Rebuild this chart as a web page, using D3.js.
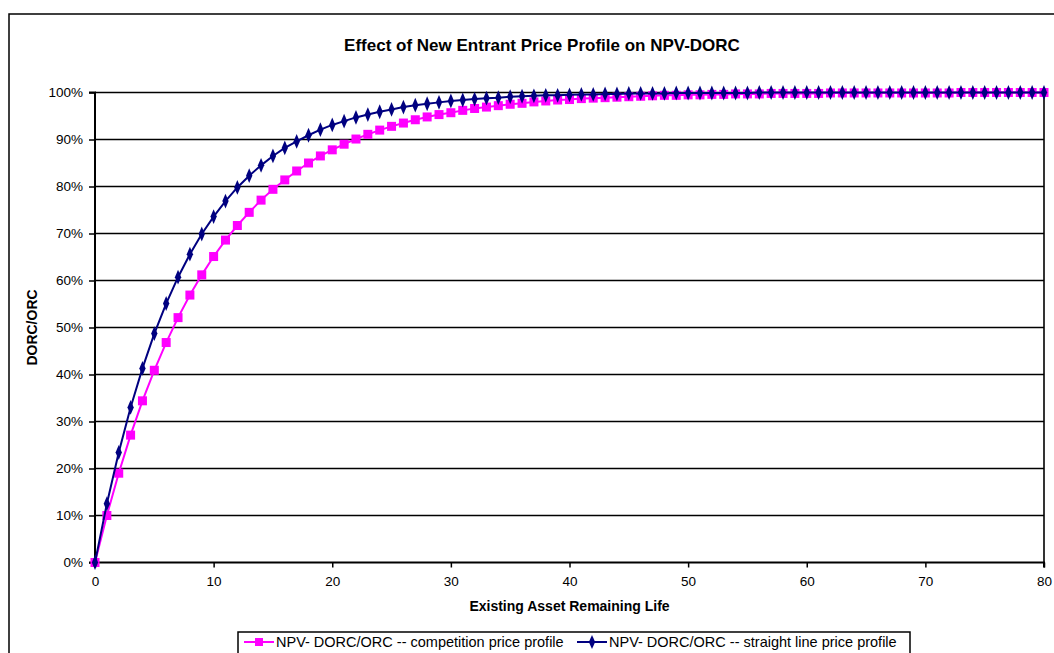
<!DOCTYPE html>
<html>
<head>
<meta charset="utf-8">
<script src="https://cdn.jsdelivr.net/npm/d3@7"></script>
<style>
  html, body { margin: 0; padding: 0; background: #fff; }
  svg { display: block; font-family: "Liberation Sans", Arial, sans-serif; }
</style>
</head>
<body>
<svg id="chart" width="1054" height="653"></svg>
<script>
// ---- data ----
const years = [0,1,2,3,4,5,6,7,8,9,10,11,12,13,14,15,16,17,18,19,20,21,22,23,24,25,26,27,28,29,30,31,32,33,34,35,36,37,38,39,40,41,42,43,44,45,46,47,48,49,50,51,52,53,54,55,56,57,58,59,60,61,62,63,64,65,66,67,68,69,70,71,72,73,74,75,76,77,78,79,80];

const competitionProfile = [0,0.100,0.190,0.271,0.344,0.409,0.468,0.521,0.569,0.612,0.651,0.686,0.717,0.745,0.771,0.794,0.814,0.833,0.850,0.865,0.878,0.890,0.901,0.911,0.920,0.928,0.935,0.942,0.948,0.953,0.957,0.962,0.966,0.969,0.972,0.975,0.977,0.980,0.982,0.984,0.985,0.987,0.988,0.989,0.990,0.991,0.992,0.993,0.994,0.994,0.995,0.995,0.996,0.996,0.997,0.997,0.997,0.998,0.998,0.998,0.998,0.998,0.999,0.999,0.999,0.999,0.999,0.999,0.999,0.999,0.999,0.999,0.999,1,1,1,1,1,1,1,1];

const straightLineProfile = [0,0.125,0.234,0.330,0.413,0.487,0.551,0.607,0.656,0.699,0.736,0.769,0.798,0.823,0.845,0.865,0.882,0.896,0.909,0.921,0.931,0.939,0.947,0.953,0.959,0.964,0.969,0.973,0.976,0.979,0.982,0.984,0.986,0.988,0.989,0.991,0.992,0.993,0.994,0.994,0.995,0.996,0.996,0.997,0.997,0.998,0.998,0.998,0.998,0.999,0.999,0.999,0.999,0.999,0.999,0.999,1,1,1,1,1,1,1,1,1,1,1,1,1,1,1,1,1,1,1,1,1,1,1,1,1];

const xTicks = [0,10,20,30,40,50,60,70,80];
const yTicks = [0,0.1,0.2,0.3,0.4,0.5,0.6,0.7,0.8,0.9,1.0];

const titleText = "Effect of New Entrant Price Profile on NPV-DORC";
const xTitle = "Existing Asset Remaining Life";
const yTitle = "DORC/ORC";
const seriesNames = ["NPV- DORC/ORC -- competition price profile", "NPV- DORC/ORC -- straight line price profile"];

// ---- drawing ----
const svg = d3.select("#chart");
const W = 1054, H = 653;
const plot = {left: 95, right: 1044, top: 92.5, bottom: 562.5};
const pink = "#FF00FF", navy = "#000080";

svg.append("rect").attr("width", W).attr("height", H).attr("fill", "#fff");
// outer chart frame (extends past the canvas on right/bottom)
svg.append("rect").attr("x", 9).attr("y", 14).attr("width", 1100).attr("height", 800)
  .attr("fill", "none").attr("stroke", "#000").attr("stroke-width", 1.5);

const x = d3.scaleLinear().domain([0, 80]).range([plot.left, plot.right]);
const y = d3.scaleLinear().domain([0, 1]).range([plot.bottom, plot.top]);

// gridlines
svg.append("g").selectAll("line").data(yTicks.filter(d => d > 0)).join("line")
  .attr("x1", plot.left).attr("x2", plot.right)
  .attr("y1", d => y(d)).attr("y2", d => y(d))
  .attr("stroke", "#000").attr("stroke-width", 1.6);
// right plot border
svg.append("line").attr("x1", plot.right).attr("x2", plot.right)
  .attr("y1", plot.top).attr("y2", plot.bottom)
  .attr("stroke", "#000").attr("stroke-width", 1.6);

// axes
const yAxis = svg.append("g").attr("transform", `translate(${plot.left},0)`)
  .call(d3.axisLeft(y).tickValues(yTicks).tickFormat(d3.format(".0%")).tickSize(6).tickPadding(6));
const xAxis = svg.append("g").attr("transform", `translate(0,${plot.bottom})`)
  .call(d3.axisBottom(x).tickValues(xTicks).tickFormat(d3.format("d")).tickSize(5).tickPadding(9));
[yAxis, xAxis].forEach(g => {
  g.select(".domain").attr("stroke", "#000").attr("stroke-width", 2);
  g.selectAll(".tick line").attr("stroke", "#000").attr("stroke-width", 1.5);
  g.selectAll(".tick text").attr("fill", "#000").style("font-size", "13.5px")
    .style("font-family", '"Liberation Sans", Arial, sans-serif');
});
yAxis.select(".domain").attr("d", `M-6,${plot.top}H0V${plot.bottom}H-6`);
xAxis.select(".domain").attr("d", `M${plot.left},5V0H${plot.right}V5`);

// series
const line = d3.line().x((d, i) => x(years[i])).y(d => y(d));
const diamond = d3.symbol().type(d3.symbolDiamond).size(48);

function drawSeries(values, color, kind) {
  const g = svg.append("g");
  g.append("path").datum(values).attr("d", line)
    .attr("fill", "none").attr("stroke", color).attr("stroke-width", 2);
  if (kind === "square") {
    g.selectAll("rect").data(values).join("rect")
      .attr("x", (d, i) => x(years[i]) - 4.5).attr("y", d => y(d) - 4.5)
      .attr("width", 9).attr("height", 9).attr("fill", color);
  } else {
    g.selectAll("path.m").data(values).join("path").attr("class", "m")
      .attr("transform", (d, i) => `translate(${x(years[i])},${y(d)}) scale(0.85,1.15)`)
      .attr("d", diamond).attr("fill", color);
  }
}
drawSeries(competitionProfile, pink, "square");
drawSeries(straightLineProfile, navy, "diamond");

// titles
svg.append("text").attr("x", 542).attr("y", 51).attr("text-anchor", "middle")
  .style("font-size", "17px").style("font-weight", "bold").text(titleText);
svg.append("text").attr("x", (plot.left + plot.right) / 2).attr("y", 611).attr("text-anchor", "middle")
  .style("font-size", "14px").style("font-weight", "bold").text(xTitle);
svg.append("text").attr("transform", `translate(37,${(plot.top + plot.bottom) / 2}) rotate(-90)`)
  .attr("text-anchor", "middle").style("font-size", "14px").style("font-weight", "bold").text(yTitle);

// legend
const lg = svg.append("g");
lg.append("rect").attr("x", 238).attr("y", 632).attr("width", 672).attr("height", 30)
  .attr("fill", "#fff").attr("stroke", "#000").attr("stroke-width", 1.5);
const legendItems = [
  {name: seriesNames[0], color: pink, kind: "square", x0: 244},
  {name: seriesNames[1], color: navy, kind: "diamond", x0: 577}
];
legendItems.forEach(it => {
  const cy = 642;
  lg.append("line").attr("x1", it.x0).attr("x2", it.x0 + 30).attr("y1", cy).attr("y2", cy)
    .attr("stroke", it.color).attr("stroke-width", 2);
  if (it.kind === "square") {
    lg.append("rect").attr("x", it.x0 + 11).attr("y", cy - 4).attr("width", 8).attr("height", 8).attr("fill", it.color);
  } else {
    lg.append("path").attr("d", diamond).attr("transform", `translate(${it.x0 + 15},${cy}) scale(0.85,1.1)`).attr("fill", it.color);
  }
  lg.append("text").attr("x", it.x0 + 32).attr("y", cy + 5).style("font-size", "14.5px").text(it.name);
});
</script>
</body>
</html>
